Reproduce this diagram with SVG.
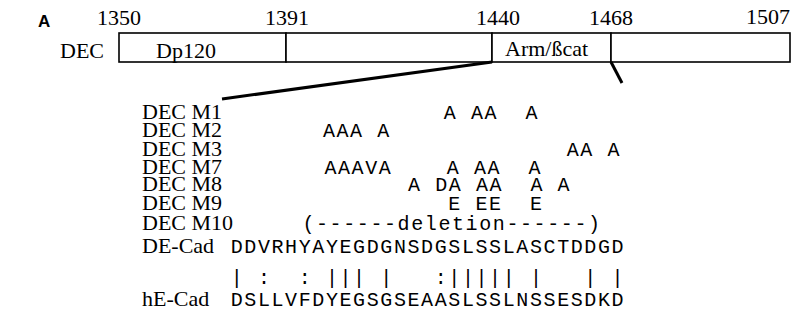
<svg xmlns="http://www.w3.org/2000/svg" width="801" height="321" viewBox="0 0 801 321">
<style>
.serif{font-family:"Liberation Serif","Times New Roman",serif;font-size:22px;fill:#000}
.mono{font-family:"Liberation Mono","Courier New",monospace;font-size:20px;letter-spacing:1.6px;fill:#000;white-space:pre}
.pipe{font-family:"Liberation Mono","Courier New",monospace;font-size:20px;fill:#000;text-anchor:middle}
.box{fill:#fff;stroke:#000;stroke-width:1.6}
.zoom{stroke:#000;stroke-width:3;fill:none;stroke-linecap:butt}
</style>
<rect width="801" height="321" fill="#fff"/>
<text x="38" y="27" style="font-family:'Liberation Sans',Arial,sans-serif;font-weight:bold;font-size:17px">A</text>
<g id="scale" class="serif">
<text x="97" y="25">1350</text>
<text x="265" y="25">1391</text>
<text x="476" y="25">1440</text>
<text x="589" y="25">1468</text>
<text x="746" y="24">1507</text>
</g>
<text class="serif" x="60" y="58">DEC</text>
<g id="dec-bar">
<g id="seg-dp120"><rect class="box" x="119" y="33" width="167" height="29"/><text class="serif" x="156" y="58">Dp120</text></g>
<g id="seg-mid"><rect class="box" x="286" y="33" width="206" height="29"/></g>
<g id="seg-arm"><rect class="box" x="492" y="33" width="119" height="29"/><text class="serif" x="505" y="56">Arm/ßcat</text></g>
<g id="seg-end"><rect class="box" x="611" y="33" width="179" height="29"/></g>
</g>
<g id="connectors">
<line class="zoom" x1="492" y1="62" x2="222" y2="99"/>
<line class="zoom" x1="611" y1="62" x2="622" y2="83"/>
</g>
<g id="mutants">
<g id="m1"><text class="serif" x="142" y="119">DEC M1</text><text class="mono" x="443.8" y="119">A AA  A</text></g>
<g id="m2"><text class="serif" x="142" y="137">DEC M2</text><text class="mono" x="322.9" y="137">AAA A</text></g>
<g id="m3"><text class="serif" x="142" y="155.5">DEC M3</text><text class="mono" x="566.7" y="155.5">AA A</text></g>
<g id="m7"><text class="serif" x="142" y="173.5">DEC M7</text><text class="mono" x="324.4" y="173.5">AAAVA    A AA  A</text></g>
<g id="m8"><text class="serif" x="142" y="191">DEC M8</text><text class="mono" x="408" y="191">A DA AA  A A</text></g>
<g id="m9"><text class="serif" x="142" y="210">DEC M9</text><text class="mono" x="448.3" y="210">E EE  E</text></g>
<g id="m10"><text class="serif" x="142" y="229.5">DEC M10</text><text class="mono" x="302.4" y="229.5">(------deletion------)</text></g>
</g>
<g id="alignment">
<g id="de-cad"><text class="serif" x="142" y="253">DE-Cad</text><text class="mono" x="230.7" y="253">DDVRHYAYEGDGNSDGSLSSLASCTDDGD</text></g>
<text class="pipe" y="284" x="236.7 263.9 304.7 331.9 345.5 359.1 386.3 440.7 454.3 467.9 481.5 495.1 508.7 535.9 590.3 617.5">|::||||:||||||||</text>
<g id="he-cad"><text class="serif" x="142" y="306">hE-Cad</text><text class="mono" x="230.7" y="306">DSLLVFDYEGSGSEAASLSSLNSSESDKD</text></g>
</g>
</svg>
